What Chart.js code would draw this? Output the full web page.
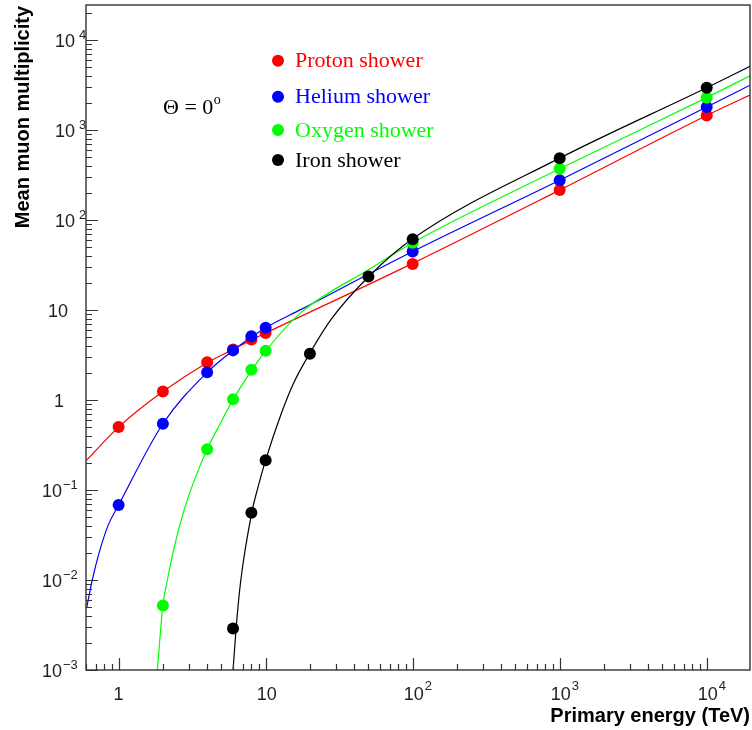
<!DOCTYPE html>
<html>
<head>
<meta charset="utf-8">
<title>Mean muon multiplicity vs primary energy</title>
<script src="https://cdn.jsdelivr.net/npm/chart.js@4.4.1/dist/chart.umd.min.js"></script>
<style>
  html, body { margin: 0; padding: 0; background: #fff; overflow: hidden; }
  #wrap { width: 752px; height: 730px; }
  canvas { display: block; }
</style>
</head>
<body>
<div id="wrap"><canvas id="muonChart" width="752" height="730"></canvas></div>
<script>
// simulated points (primary energy in TeV -> mean number of muons)
const protonEnergy = [1, 2, 4, 6, 8, 10, 100, 1000, 10000];
const protonMuons = [0.5, 1.24, 2.62, 3.65, 4.69, 5.56, 32.4, 215, 1450];
const heliumEnergy = [1, 2, 4, 6, 8, 10, 100, 1000, 10000];
const heliumMuons = [0.068, 0.545, 2.03, 3.56, 5.1, 6.37, 44.6, 277, 1800];
const oxygenEnergy = [2, 4, 6, 8, 10, 100, 1000, 10000];
const oxygenMuons = [0.0052, 0.283, 1.02, 2.17, 3.53, 56, 371, 2290];
const ironEnergy = [6, 8, 10, 20, 50, 100, 1000, 10000];
const ironMuons = [0.0029, 0.056, 0.214, 3.27, 23.6, 61, 487, 2950];

// fitted curves
const protonFitE = [0.606, 1, 2, 4, 6, 8, 10, 100, 1000, 10000, 19700];
const protonFitMu = [0.215, 0.5, 1.24, 2.6, 3.65, 4.66, 5.55, 33, 215, 1450, 2450];
const heliumFitE = [0.606, 0.662, 0.739, 0.851, 1, 2, 4, 6, 10, 17.3, 100, 1000, 10000, 19700];
const heliumFitMu = [0.0049, 0.01, 0.0204, 0.041, 0.068, 0.545, 2.03, 3.55, 6.35, 10.1, 44.6, 277, 1800, 3150];
const oxygenFitE = [1.835, 2, 2.147, 2.381, 2.786, 3.258, 4, 4.952, 6, 8, 10, 17.37, 50, 100, 1000, 10000, 19700];
const oxygenFitMu = [0.001, 0.0052, 0.01, 0.0226, 0.0598, 0.1256, 0.283, 0.563, 1.01, 2.12, 3.51, 9.35, 28, 56, 371, 2290, 4000];
const ironFitE = [6.005, 6.3, 6.78, 8.05, 8.81, 10, 12.69, 15.32, 20, 27.8, 50.5, 100, 1000, 10000, 19700];
const ironFitMu = [0.001, 0.00294, 0.01, 0.0562, 0.1031, 0.215, 0.686, 1.48, 3.32, 7.82, 23.7, 61.8, 487, 2950, 5100];

// axis labels: [base, exponent]
const xTickValues = [1, 10, 100, 1000, 10000];
const xTickLabels = [['1', ''], ['10', ''], ['10', '2'], ['10', '3'], ['10', '4']];
const yTickValues = [1e-3, 1e-2, 1e-1, 1, 10, 100, 1000, 10000];
const yTickLabels = [['10', '\u22123'], ['10', '\u22122'], ['10', '\u22121'], ['1', ''], ['10', ''], ['10', '2'], ['10', '3'], ['10', '4']];

const legendNames = ['Proton shower', 'Helium shower', 'Oxygen shower', 'Iron shower'];
const legendColors = ['#ff0000', '#0000ff', '#00ff00', '#000000'];
const legendRows = [60.7, 96.7, 130, 160];

const SANS = '"Liberation Sans", Arial, Helvetica, sans-serif';
const SERIF = '"Liberation Serif", "Times New Roman", serif';

function toPoints(xs, ys) {
  return xs.map((v, i) => ({ x: v, y: ys[i] }));
}

function fitSet(xs, ys, color, order) {
  return {
    data: toPoints(xs, ys),
    showLine: true,
    borderColor: color,
    borderWidth: 1.2,
    pointRadius: 0,
    cubicInterpolationMode: 'monotone',
    clip: 0,
    order: order,
  };
}

function pointSet(xs, ys, color, order) {
  return {
    data: toPoints(xs, ys),
    showLine: false,
    backgroundColor: color,
    borderWidth: 0,
    pointRadius: 6,
    clip: false,
    order: order,
  };
}

// ticks pointing into the frame, labels with raised exponents, titles, legend
const decorations = {
  id: 'decorations',
  afterDraw(chart) {
    const { ctx, chartArea: a, scales: { x, y } } = chart;
    ctx.save();

    ctx.strokeStyle = '#333';
    ctx.lineWidth = 1.2;
    ctx.beginPath();
    for (let d = -1; d <= 4; d++) {
      for (let k = 1; k <= 9; k++) {
        const v = k * Math.pow(10, d);
        if (v < x.min || v > x.max) continue;
        const px = Math.round(x.getPixelForValue(v)) + 0.5;
        ctx.moveTo(px, a.bottom);
        ctx.lineTo(px, a.bottom - (k === 1 ? 12 : 6));
      }
    }
    for (let d = -3; d <= 4; d++) {
      for (let k = 1; k <= 9; k++) {
        const v = k * Math.pow(10, d);
        if (v < y.min || v > y.max) continue;
        const py = Math.round(y.getPixelForValue(v)) + 0.5;
        ctx.moveTo(a.left, py);
        ctx.lineTo(a.left + (k === 1 ? 12 : 6), py);
      }
    }
    ctx.stroke();
    ctx.lineWidth = 1.4;
    ctx.strokeRect(a.left, a.top, a.right - a.left, a.bottom - a.top);

    // tick labels
    ctx.fillStyle = '#222';
    ctx.textBaseline = 'alphabetic';
    yTickValues.forEach((v, i) => {
      const [base, exp] = yTickLabels[i];
      const py = y.getPixelForValue(v) + 6.5;
      ctx.font = '18px ' + SANS;
      if (!exp) {
        ctx.textAlign = 'right';
        ctx.fillText(base, base === '1' ? 64 : 68, py);
        return;
      }
      const neg = exp.charAt(0) === '\u2212';
      ctx.textAlign = 'right';
      ctx.fillText(base, neg ? 62 : 75, py);
      ctx.textAlign = 'left';
      ctx.font = '13px ' + SANS;
      ctx.fillText(exp, neg ? 63 : 79, py - 8);
    });
    xTickValues.forEach((v, i) => {
      const [base, exp] = xTickLabels[i];
      const px = x.getPixelForValue(v);
      ctx.font = '18px ' + SANS;
      ctx.textAlign = 'center';
      const cx = base === '1' ? px : px + 1;
      ctx.fillText(base, cx, 700);
      if (exp) {
        const w = ctx.measureText(base).width;
        ctx.textAlign = 'left';
        ctx.font = '13px ' + SANS;
        ctx.fillText(exp, cx + w / 2 + 1, 690);
      }
    });

    // axis titles
    ctx.fillStyle = '#000';
    ctx.font = 'bold 20px ' + SANS;
    ctx.textAlign = 'right';
    ctx.fillText('Primary energy (TeV)', 750, 722);
    ctx.save();
    ctx.translate(29, 6);
    ctx.rotate(-Math.PI / 2);
    ctx.fillText('Mean muon multiplicity', 0, 0);
    ctx.restore();

    // angle note
    ctx.textAlign = 'left';
    ctx.font = '22px ' + SERIF;
    ctx.fillText('\u0398 = 0', 163, 114);
    const tw = ctx.measureText('\u0398 = 0').width;
    ctx.font = '14px ' + SERIF;
    ctx.fillText('o', 163 + tw + 0.5, 104);

    // legend
    legendNames.forEach((name, i) => {
      const cy = legendRows[i];
      ctx.fillStyle = legendColors[i];
      ctx.beginPath();
      ctx.arc(278, cy, 6, 0, Math.PI * 2);
      ctx.fill();
      ctx.font = '22px ' + SERIF;
      ctx.fillText(name, 295, cy + 6.5);
    });

    ctx.restore();
  }
};

new Chart(document.getElementById('muonChart'), {
  type: 'scatter',
  data: {
    datasets: [
      pointSet(ironEnergy, ironMuons, '#000000', 0),
      pointSet(oxygenEnergy, oxygenMuons, '#00ff00', 1),
      pointSet(heliumEnergy, heliumMuons, '#0000ff', 2),
      pointSet(protonEnergy, protonMuons, '#ff0000', 3),
      fitSet(ironFitE, ironFitMu, '#000000', 10),
      fitSet(oxygenFitE, oxygenFitMu, '#00ff00', 11),
      fitSet(heliumFitE, heliumFitMu, '#0000ff', 12),
      fitSet(protonFitE, protonFitMu, '#ff0000', 13),
    ],
  },
  options: {
    responsive: false,
    animation: false,
    events: [],
    // no extra room for point overflow, the frame must sit at 86..750 x 5..670
    layout: { autoPadding: false, padding: { left: 86, right: 2, top: 5, bottom: 60 } },
    plugins: { legend: { display: false }, tooltip: { enabled: false } },
    scales: {
      x: { type: 'logarithmic', min: 0.606, max: 19700, display: false },
      y: { type: 'logarithmic', min: 0.001, max: 24500, display: false },
    },
  },
  plugins: [decorations],
});
</script>
</body>
</html>
